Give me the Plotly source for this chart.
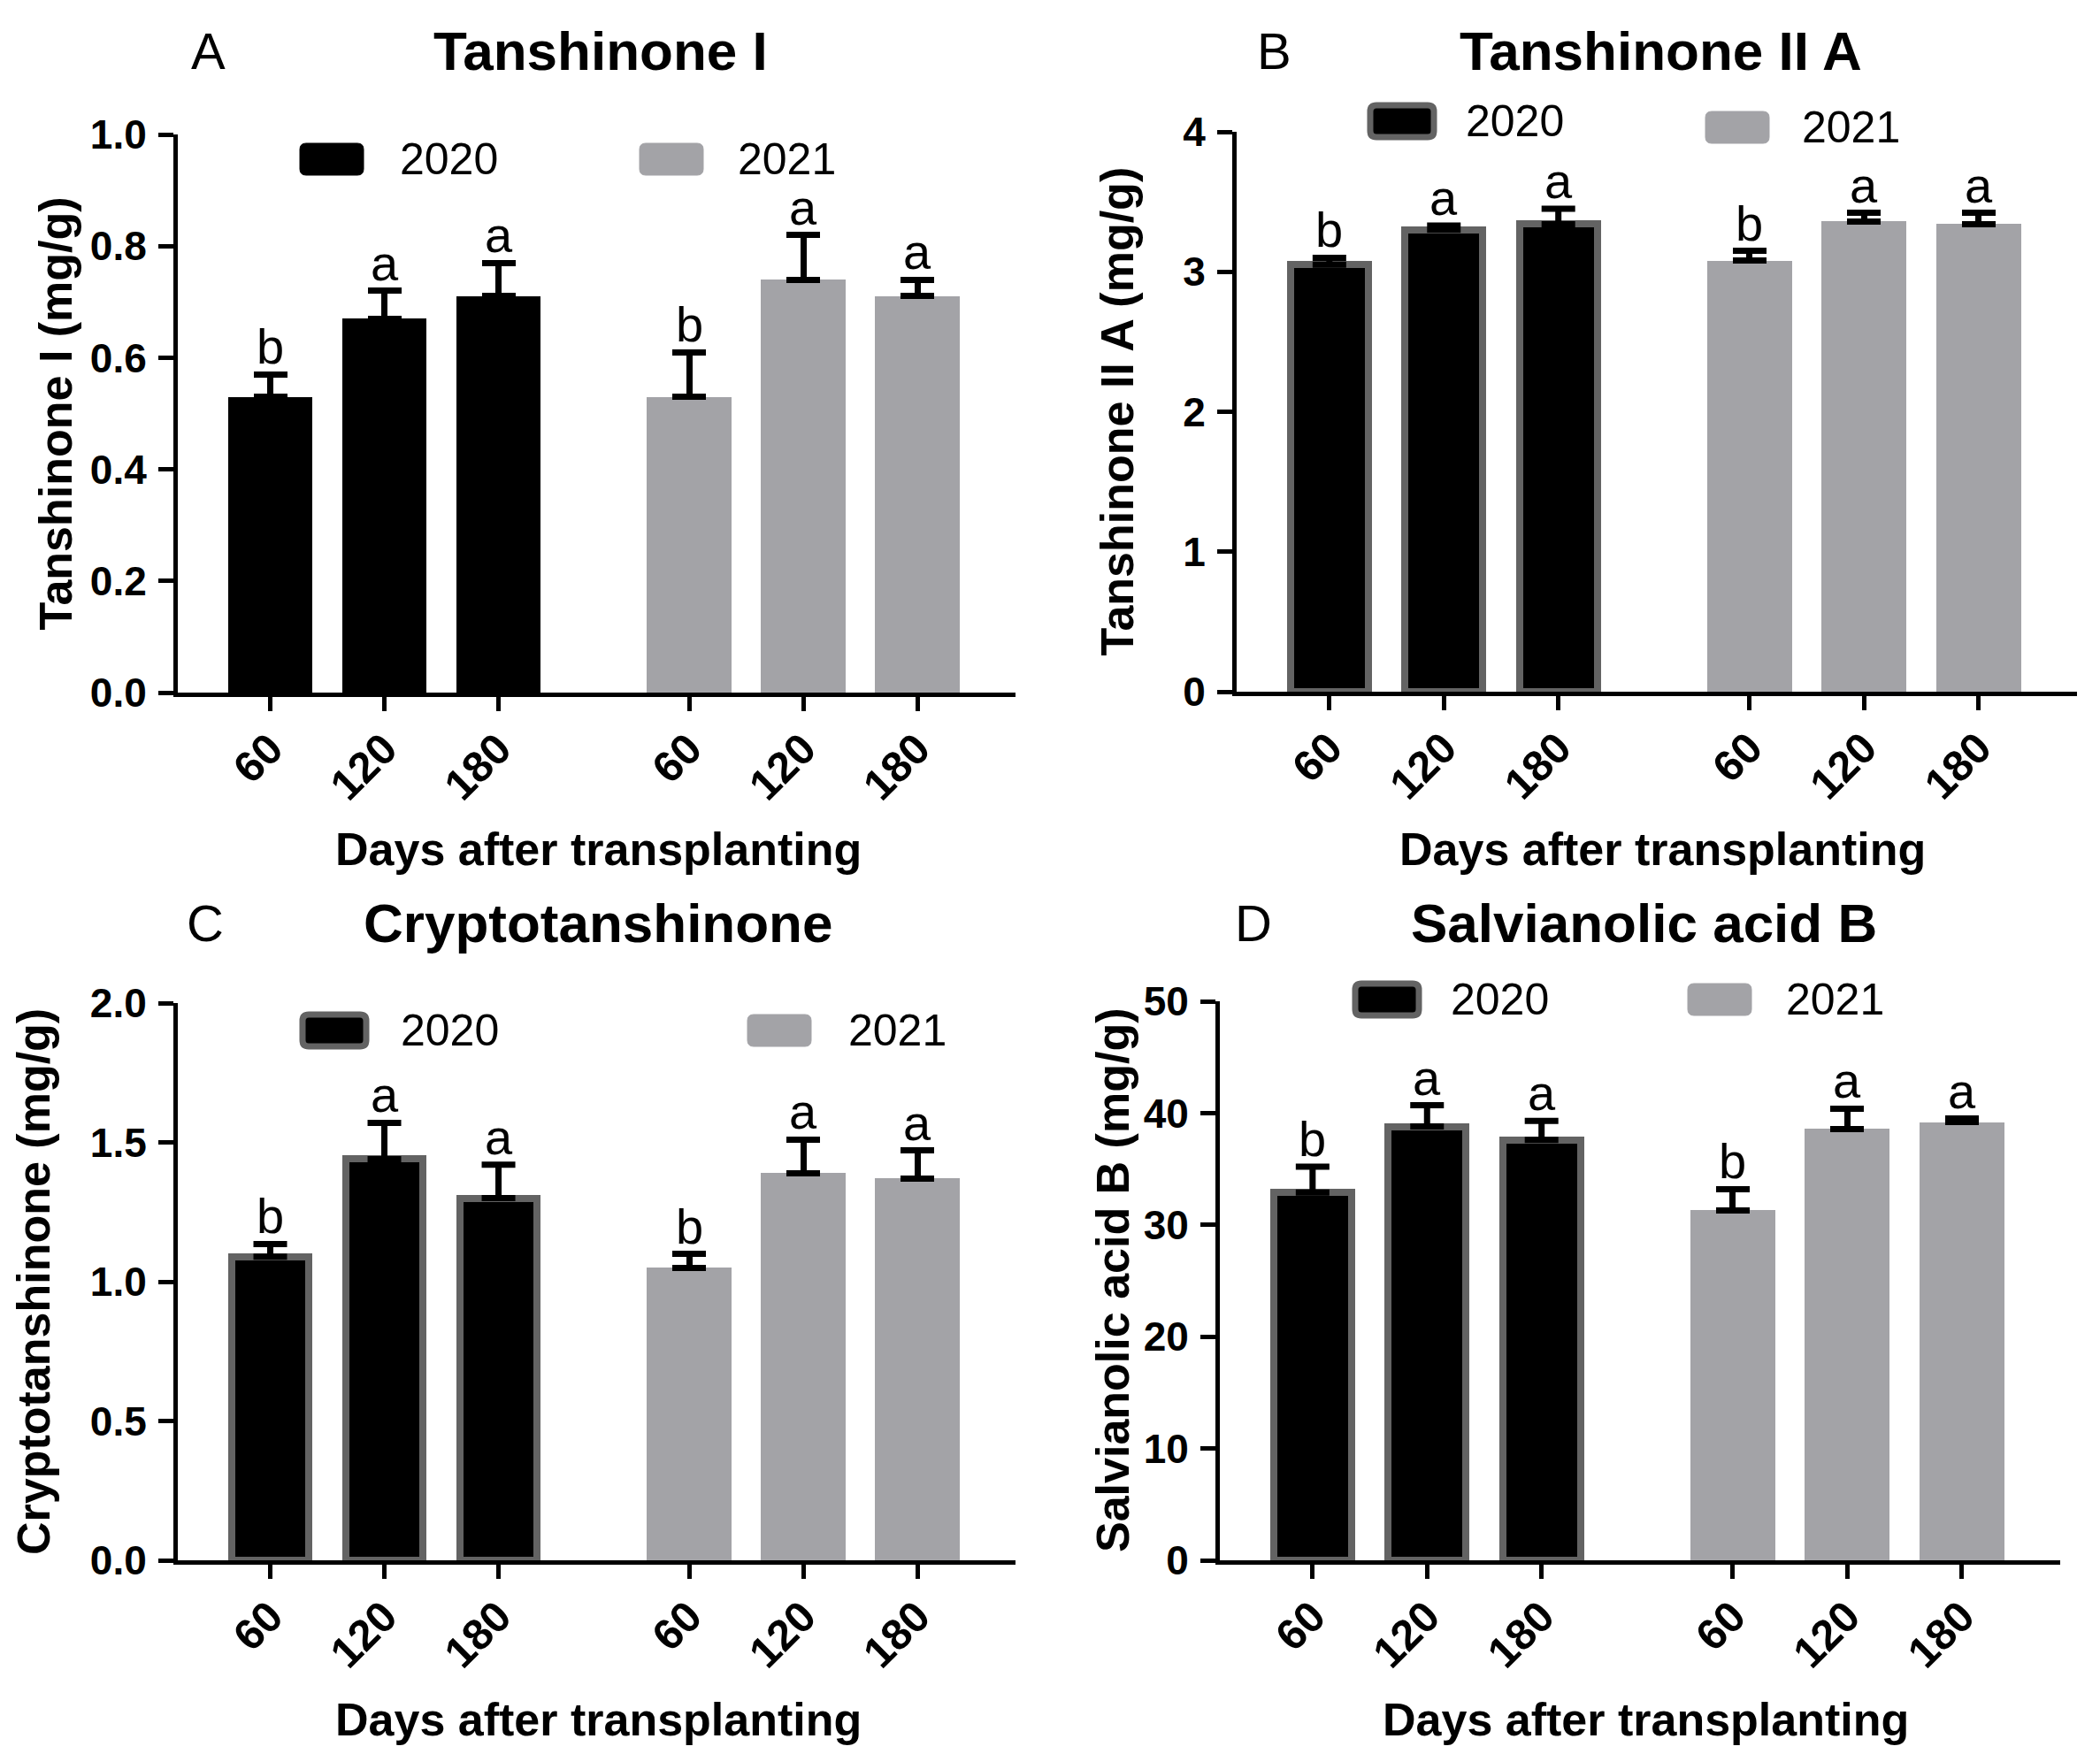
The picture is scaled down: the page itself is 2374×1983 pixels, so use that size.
import plotly.graph_objects as go
from plotly.subplots import make_subplots

# categories (days after transplanting) and letters of significance
days = ["60", "120", "180"]
sig_2020 = ["b", "a", "a"]
sig_2021 = ["b", "a", "a"]

# Tanshinone I (mg/g)
tan1_2020 = [0.53, 0.67, 0.71]
tan1_2020_err = [0.04, 0.05, 0.06]
tan1_2021 = [0.53, 0.74, 0.71]
tan1_2021_err = [0.08, 0.08, 0.03]

# Tanshinone II A (mg/g)
tan2a_2020 = [3.05, 3.30, 3.34]
tan2a_2020_err = [0.05, 0.03, 0.11]
tan2a_2021 = [3.08, 3.36, 3.34]
tan2a_2021_err = [0.07, 0.06, 0.08]

# Cryptotanshinone (mg/g)
crypto_2020 = [1.09, 1.44, 1.30]
crypto_2020_err = [0.045, 0.13, 0.12]
crypto_2021 = [1.05, 1.39, 1.37]
crypto_2021_err = [0.05, 0.12, 0.10]

# Salvianolic acid B (mg/g)
salb_2020 = [32.9, 38.8, 37.6]
salb_2020_err = [2.3, 1.9, 1.7]
salb_2021 = [31.3, 38.6, 39.2]
salb_2021_err = [1.9, 1.8, 0.3]

# page is 2374x1983, body has an 8px margin, so the figure is a bit smaller
PAGE_W, PAGE_H = 2374, 1983
OFF = 8
W, H = PAGE_W - 2 * OFF, PAGE_H - 2 * OFF
FONT = "Liberation Sans, Arial, sans-serif"
BLACK = "#000000"
GREY = "#a3a3a7"
EDGE = "#636363"
EDGE_W = 8
GAP = 1.67      # extra space between the two year groups
BAR_W = 0.74
UNIT = 129.5    # px per category step, used to keep outlined bars same size


def px(x):
    return (x - OFF) / W


def py(y):
    return 1 - (y - OFF) / H


fig = make_subplots(rows=2, cols=2)

panels = [
    dict(r=1, c=1, tag="A", title="Tanshinone I", ytitle="Tanshinone I (mg/g)",
         m20=tan1_2020, e20=tan1_2020_err, m21=tan1_2021, e21=tan1_2021_err,
         yr=[0, 1.0], dt=0.2, fmt=".1f", edge=False,
         dom_x=[201, 1148], dom_y=[783, 152],
         tag_xy=(235, 58), title_xy=(679, 58), ytitle_x=62, xtitle_xy=(676, 960),
         leg=[(375, 180, 450, 180), (759, 180, 832, 180)]),
    dict(r=1, c=2, tag="B", title="Tanshinone II A", ytitle="Tanshinone II A (mg/g)",
         m20=tan2a_2020, e20=tan2a_2020_err, m21=tan2a_2021, e21=tan2a_2021_err,
         yr=[0, 4], dt=1, fmt="d", edge=True,
         dom_x=[1398, 2348], dom_y=[782, 149],
         tag_xy=(1440, 58), title_xy=(1877, 58), ytitle_x=1262, xtitle_xy=(1879, 960),
         leg=[(1585, 137, 1655, 137), (1964, 144, 2035, 144)]),
    dict(r=2, c=1, tag="C", title="Cryptotanshinone", ytitle="Cryptotanshinone (mg/g)",
         m20=crypto_2020, e20=crypto_2020_err, m21=crypto_2021, e21=crypto_2021_err,
         yr=[0, 2.0], dt=0.5, fmt=".1f", edge=True,
         dom_x=[201, 1148], dom_y=[1764, 1134],
         tag_xy=(232, 1043), title_xy=(676, 1043), ytitle_x=38, xtitle_xy=(676, 1944),
         leg=[(378, 1165, 451, 1165), (881, 1165, 957, 1165)]),
    dict(r=2, c=2, tag="D", title="Salvianolic acid B", ytitle="Salvianolic acid B (mg/g)",
         m20=salb_2020, e20=salb_2020_err, m21=salb_2021, e21=salb_2021_err,
         yr=[0, 50], dt=10, fmt="d", edge=True,
         dom_x=[1379, 2329], dom_y=[1764, 1132],
         tag_xy=(1417, 1043), title_xy=(1858, 1043), ytitle_x=1258, xtitle_xy=(1861, 1944),
         leg=[(1568, 1130, 1638, 1130), (1944, 1130, 2017, 1130)]),
]

x20 = [i for i in range(len(days))]
x21 = [i + len(days) - 1 + GAP for i in range(len(days))]

annotations = []
shapes = []


def label(x, y, text, size, angle=0, xanchor="center"):
    return dict(x=px(x), y=py(y), xref="paper", yref="paper", text=text,
                showarrow=False, textangle=angle, xanchor=xanchor, yanchor="middle",
                font=dict(size=size, family=FONT, color=BLACK))


def rounded_rect(cx, cy, w, h, r):
    # path in paper coordinates, corners rounded by r pixels
    x0, x1 = px(cx - w / 2), px(cx + w / 2)
    y0, y1 = py(cy + h / 2), py(cy - h / 2)
    rx, ry = r / W, r / H
    return (f"M{x0 + rx},{y0} L{x1 - rx},{y0} Q{x1},{y0} {x1},{y0 + ry} "
            f"L{x1},{y1 - ry} Q{x1},{y1} {x1 - rx},{y1} L{x0 + rx},{y1} "
            f"Q{x0},{y1} {x0},{y1 - ry} L{x0},{y0 + ry} Q{x0},{y0} {x0 + rx},{y0} Z")


for n, p in enumerate(panels):
    suffix = "" if n == 0 else str(n + 1)
    if p["edge"]:
        line20 = dict(color=EDGE, width=EDGE_W)
        w20 = BAR_W - EDGE_W / UNIT
    else:
        line20 = dict(width=0)
        w20 = BAR_W
    for xs, m, e, col, ln, bw, sig in [(x20, p["m20"], p["e20"], BLACK, line20, w20, sig_2020),
                                       (x21, p["m21"], p["e21"], GREY, dict(width=0), BAR_W, sig_2021)]:
        fig.add_trace(go.Bar(
            x=xs, y=m, width=bw,
            marker=dict(color=col, line=ln),
            error_y=dict(type="data", array=e, arrayminus=[0] * len(e), symmetric=False,
                         color=BLACK, thickness=7, width=19),
            showlegend=False,
        ), row=p["r"], col=p["c"])
        for xi, mi, ei, s in zip(xs, m, e, sig):
            annotations.append(dict(
                x=xi, y=mi + ei, xref="x" + suffix, yref="y" + suffix,
                text=s, showarrow=False, xanchor="center", yanchor="bottom", yshift=-2,
                font=dict(size=56, color=BLACK, family=FONT)))

    fig.update_xaxes(
        domain=[px(p["dom_x"][0]), px(p["dom_x"][1])],
        range=[-0.81, x21[-1] + 0.86], automargin=False,
        tickvals=x20 + x21, ticktext=days + days, tickangle=-45,
        tickfont=dict(size=49, family=FONT, color=BLACK, weight="bold"),
        ticks="outside", ticklen=16, tickwidth=5, tickcolor=BLACK, ticklabelstandoff=-6,
        showline=True, linewidth=5, linecolor=BLACK, showgrid=False, zeroline=False,
        row=p["r"], col=p["c"])
    fig.update_yaxes(
        domain=[py(p["dom_y"][0]), py(p["dom_y"][1])],
        range=p["yr"], dtick=p["dt"], tick0=0, tickformat=p["fmt"], automargin=False,
        tickfont=dict(size=46, family=FONT, color=BLACK, weight="bold"),
        ticks="outside", ticklen=17, tickwidth=5, tickcolor=BLACK, ticklabelstandoff=4,
        showline=True, linewidth=5, linecolor=BLACK, showgrid=False, zeroline=False,
        row=p["r"], col=p["c"])

    # panel letter, title, axis titles
    annotations.append(label(*p["tag_xy"], p["tag"], 58))
    annotations.append(label(*p["title_xy"], f"<b>{p['title']}</b>", 62))
    ymid = (p["dom_y"][0] + p["dom_y"][1]) / 2
    annotations.append(label(p["ytitle_x"], ymid, f"<b>{p['ytitle']}</b>", 52, angle=-90))
    annotations.append(label(*p["xtitle_xy"], "<b>Days after transplanting</b>", 52))

    # legend: swatch + label for each year
    for (sx, sy, tx, ty), yr, col, edge in [(p["leg"][0], "2020", BLACK, p["edge"]),
                                           (p["leg"][1], "2021", GREY, False)]:
        shapes.append(dict(type="path", xref="paper", yref="paper",
                           path=rounded_rect(sx, sy, 72, 36, 7),
                           fillcolor=col,
                           line=dict(color=EDGE if edge else col, width=7 if edge else 1)))
        annotations.append(label(tx, ty, yr, 50, xanchor="left"))

fig.update_layout(
    width=W, height=H,
    margin=dict(l=0, r=0, t=0, b=0, autoexpand=False),
    paper_bgcolor="white", plot_bgcolor="white",
    bargap=0, showlegend=False,
    annotations=annotations, shapes=shapes,
    font=dict(family=FONT, color=BLACK),
)

fig.write_html("out.html")
